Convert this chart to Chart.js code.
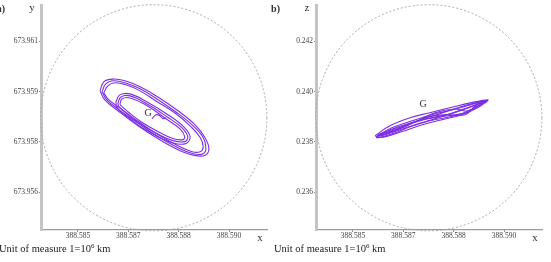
<!DOCTYPE html>
<html>
<head>
<meta charset="utf-8">
<script src="https://cdn.jsdelivr.net/npm/chart.js@4.4.0/dist/chart.umd.min.js"></script>
<style>
body{margin:0;background:#fff;width:551px;height:262px;overflow:hidden;position:relative}
canvas{position:absolute;top:0}
</style>
</head>
<body>
<canvas id="pa" width="275" height="262" style="left:0"></canvas>
<canvas id="pb" width="286" height="262" style="left:265px"></canvas>
<script>
// tick positions and the labels printed at them (unit 1 = 10^6 km)
const xTicks = [388.5850, 388.5865, 388.5880, 388.5895];
const xTickLabels = ['388.585', '388.587', '388.588', '388.590'];
const yTicks = [673.9560, 673.9575, 673.9590, 673.9605];
const yTickLabels = ['673.956', '673.958', '673.959', '673.961'];
const zTicks = [0.236, 0.238, 0.240, 0.242];
const zTickLabels = ['0.236', '0.238', '0.240', '0.242'];

const xRange = [388.58390, 388.59063];
const yRange = [673.95488, 673.96156];
const zRange = [0.23450, 0.24342];

// dashed circle round the centre
const circleX = 388.58726;
const circleY = 673.95822;
const circleZ = 0.23896;
const circleR = 0.003367;

// position of the G label
const gA = [388.58709, 673.95834];
const gB = [388.58709, 0.23951];

// a) projection on x-y : outer loops
const a1x = [388.58566, 388.58577, 388.58604, 388.58640, 388.58685, 388.58738, 388.58798, 388.58849, 388.58878, 388.58890, 388.58878, 388.58846, 388.58798, 388.58738, 388.58679, 388.58619, 388.58580, 388.58566];
const a1y = [673.95902, 673.95929, 673.95937, 673.95932, 673.95914, 673.95884, 673.95843, 673.95801, 673.95763, 673.95730, 673.95710, 673.95710, 673.95727, 673.95760, 673.95798, 673.95843, 673.95875, 673.95902];
const a2x = [388.58572, 388.58583, 388.58607, 388.58640, 388.58685, 388.58735, 388.58795, 388.58843, 388.58873, 388.58881, 388.58873, 388.58843, 388.58798, 388.58738, 388.58682, 388.58622, 388.58586, 388.58572];
const a2y = [673.95899, 673.95923, 673.95932, 673.95926, 673.95908, 673.95878, 673.95837, 673.95798, 673.95763, 673.95733, 673.95715, 673.95715, 673.95733, 673.95766, 673.95804, 673.95846, 673.95875, 673.95899];
const a3x = [388.58577, 388.58589, 388.58610, 388.58643, 388.58685, 388.58732, 388.58792, 388.58837, 388.58864, 388.58873, 388.58864, 388.58840, 388.58798, 388.58738, 388.58685, 388.58628, 388.58592, 388.58577];
const a3y = [673.95896, 673.95917, 673.95926, 673.95920, 673.95902, 673.95872, 673.95834, 673.95795, 673.95763, 673.95736, 673.95721, 673.95721, 673.95739, 673.95772, 673.95807, 673.95849, 673.95875, 673.95896];

// a) inner loops
const i1x = [388.58619, 388.58628, 388.58655, 388.58706, 388.58765, 388.58810, 388.58827, 388.58818, 388.58783, 388.58735, 388.58685, 388.58646, 388.58622, 388.58619];
const i1y = [673.95866, 673.95884, 673.95887, 673.95863, 673.95825, 673.95792, 673.95766, 673.95751, 673.95754, 673.95775, 673.95804, 673.95834, 673.95855, 673.95866];
const i2x = [388.58613, 388.58625, 388.58655, 388.58706, 388.58768, 388.58815, 388.58834, 388.58821, 388.58780, 388.58732, 388.58682, 388.58643, 388.58616, 388.58613];
const i2y = [673.95869, 673.95890, 673.95893, 673.95869, 673.95831, 673.95795, 673.95766, 673.95745, 673.95748, 673.95769, 673.95798, 673.95828, 673.95852, 673.95869];
const i3x = [388.58625, 388.58631, 388.58655, 388.58706, 388.58762, 388.58804, 388.58818, 388.58813, 388.58783, 388.58738, 388.58688, 388.58649, 388.58628, 388.58625];
const i3y = [673.95863, 673.95878, 673.95881, 673.95858, 673.95819, 673.95789, 673.95766, 673.95757, 673.95760, 673.95781, 673.95810, 673.95840, 673.95858, 673.95863];
const wx = [388.58721, 388.58732, 388.58744, 388.58753, 388.58762];
const wy = [673.95819, 673.95831, 673.95828, 673.95819, 673.95822];

// b) projection on x-z
const b1x = [388.58566, 388.58610, 388.58670, 388.58729, 388.58798, 388.58849, 388.58902, 388.58884, 388.58840, 388.58789, 388.58729, 388.58670, 388.58619, 388.58575, 388.58566];
const b1z = [0.23825, 0.23864, 0.23896, 0.23916, 0.23939, 0.23955, 0.23967, 0.23951, 0.23920, 0.23900, 0.23884, 0.23860, 0.23833, 0.23817, 0.23825];
const b2x = [388.58572, 388.58616, 388.58676, 388.58735, 388.58795, 388.58849, 388.58896, 388.58873, 388.58834, 388.58783, 388.58724, 388.58664, 388.58616, 388.58572, 388.58572];
const b2z = [0.23825, 0.23856, 0.23884, 0.23908, 0.23927, 0.23947, 0.23963, 0.23943, 0.23916, 0.23904, 0.23892, 0.23868, 0.23841, 0.23821, 0.23825];
const b3x = [388.58575, 388.58625, 388.58685, 388.58744, 388.58804, 388.58840, 388.58890, 388.58864, 388.58834, 388.58774, 388.58715, 388.58655, 388.58610, 388.58575, 388.58575];
const b3z = [0.23829, 0.23852, 0.23880, 0.23916, 0.23931, 0.23923, 0.23959, 0.23943, 0.23908, 0.23908, 0.23896, 0.23860, 0.23837, 0.23825, 0.23829];
const b4x = [388.58580, 388.58634, 388.58700, 388.58759, 388.58819, 388.58893, 388.58864, 388.58813, 388.58753, 388.58694, 388.58634, 388.58586, 388.58580];
const b4z = [0.23829, 0.23852, 0.23888, 0.23912, 0.23939, 0.23963, 0.23947, 0.23923, 0.23896, 0.23872, 0.23845, 0.23825, 0.23829];
const b5x = [388.58569, 388.58613, 388.58673, 388.58732, 388.58792, 388.58843, 388.58899, 388.58875, 388.58824, 388.58765, 388.58706, 388.58646, 388.58598, 388.58569];
const b5z = [0.23821, 0.23849, 0.23876, 0.23896, 0.23912, 0.23935, 0.23963, 0.23939, 0.23908, 0.23888, 0.23868, 0.23841, 0.23821, 0.23817];

const purple = 'rgb(124,46,226)';
const serif = '"Liberation Serif", "DejaVu Serif", serif';

function pts(xs, ys) {
    return xs.map((x, i) => ({x: x, y: ys[i]}));
}

function orbit(xs, ys) {
    return {
        data: pts(xs, ys),
        showLine: true,
        borderColor: purple,
        borderWidth: 1.1,
        pointRadius: 0,
        tension: 0.4,
        fill: false
    };
}

// circle, G and the texts round the axes
const overlay = {
    id: 'overlay',
    afterDraw(chart, args, o) {
        const ctx = chart.ctx;
        const xs = chart.scales.x, ys = chart.scales.y;
        const L = chart.chartArea.left, R = chart.chartArea.right;
        const cx = xs.getPixelForValue(circleX);
        const cy = ys.getPixelForValue(o.circleV);
        const r = xs.getPixelForValue(circleX + circleR) - cx;
        ctx.save();
        ctx.strokeStyle = '#a0a0a0';
        ctx.lineWidth = 0.9;
        ctx.setLineDash([2, 2]);
        ctx.beginPath();
        ctx.arc(cx, cy, r, 0, Math.PI * 2);
        ctx.stroke();
        ctx.setLineDash([]);

        ctx.fillStyle = '#333';
        ctx.textBaseline = 'middle';
        ctx.textAlign = 'center';
        ctx.font = '10px ' + serif;
        ctx.fillText('G', xs.getPixelForValue(o.g[0]), ys.getPixelForValue(o.g[1]));

        ctx.font = '11px ' + serif;
        ctx.fillText(o.axis, L - 9, 8);
        ctx.fillText('x', R - 7, 238);

        ctx.font = 'bold 10px ' + serif;
        ctx.textAlign = 'right';
        ctx.fillText(o.panel, L - 36, 9);

        // unit line with a raised 6
        ctx.textAlign = 'left';
        ctx.textBaseline = 'alphabetic';
        ctx.fillStyle = '#222';
        ctx.font = '10.5px ' + serif;
        let x0 = L - 42;
        const t1 = 'Unit of measure 1=10';
        ctx.fillText(t1, x0, 252);
        x0 += ctx.measureText(t1).width;
        ctx.font = '7px ' + serif;
        ctx.fillText('6', x0, 248);
        x0 += ctx.measureText('6').width;
        ctx.font = '10.5px ' + serif;
        ctx.fillText(' km', x0, 252);
        ctx.restore();
    }
};

function makePanel(id, datasets, yT, yL, yR, opts, leftW, padRight) {
    return new Chart(document.getElementById(id), {
        type: 'scatter',
        data: { datasets: datasets },
        plugins: [overlay],
        options: {
            responsive: false,
            animation: false,
            layout: { padding: { top: 4, right: padRight, left: 0, bottom: 0 } },
            plugins: {
                legend: { display: false },
                tooltip: { enabled: false },
                overlay: opts
            },
            scales: {
                x: {
                    type: 'linear',
                    min: xRange[0], max: xRange[1],
                    afterFit: s => { s.height = 32; },
                    afterBuildTicks: s => { s.ticks = xTicks.map(v => ({value: v})); },
                    grid: { drawOnChartArea: false, tickLength: 2, color: '#888' },
                    border: { color: '#9a9a9a', width: 1.2 },
                    ticks: {
                        autoSkip: false, maxRotation: 0, padding: 0,
                        color: '#444', font: { family: serif, size: 7.5 },
                        callback: (v, i) => xTickLabels[i]
                    }
                },
                y: {
                    type: 'linear',
                    min: yR[0], max: yR[1],
                    afterFit: s => { s.width = leftW; },
                    afterBuildTicks: s => { s.ticks = yT.map(v => ({value: v})); },
                    grid: { drawOnChartArea: false, tickLength: 2, color: '#888' },
                    border: { color: '#c4c4c4', width: 3 },
                    ticks: {
                        autoSkip: false, padding: 1,
                        color: '#444', font: { family: serif, size: 7.5 },
                        callback: (v, i) => yL[i]
                    }
                }
            }
        }
    });
}

makePanel('pa',
    [orbit(a1x, a1y), orbit(a2x, a2y), orbit(a3x, a3y),
     orbit(i1x, i1y), orbit(i2x, i2y), orbit(i3x, i3y), orbit(wx, wy)],
    yTicks, yTickLabels, yRange,
    { panel: 'a)', axis: 'y', circleV: circleY, g: gA }, 41, 8);

makePanel('pb',
    [orbit(b1x, b1z), orbit(b2x, b2z), orbit(b3x, b3z), orbit(b4x, b4z), orbit(b5x, b5z)],
    zTicks, zTickLabels, zRange,
    { panel: 'b)', axis: 'z', circleV: circleZ, g: gB }, 51, 9);
</script>
</body>
</html>
